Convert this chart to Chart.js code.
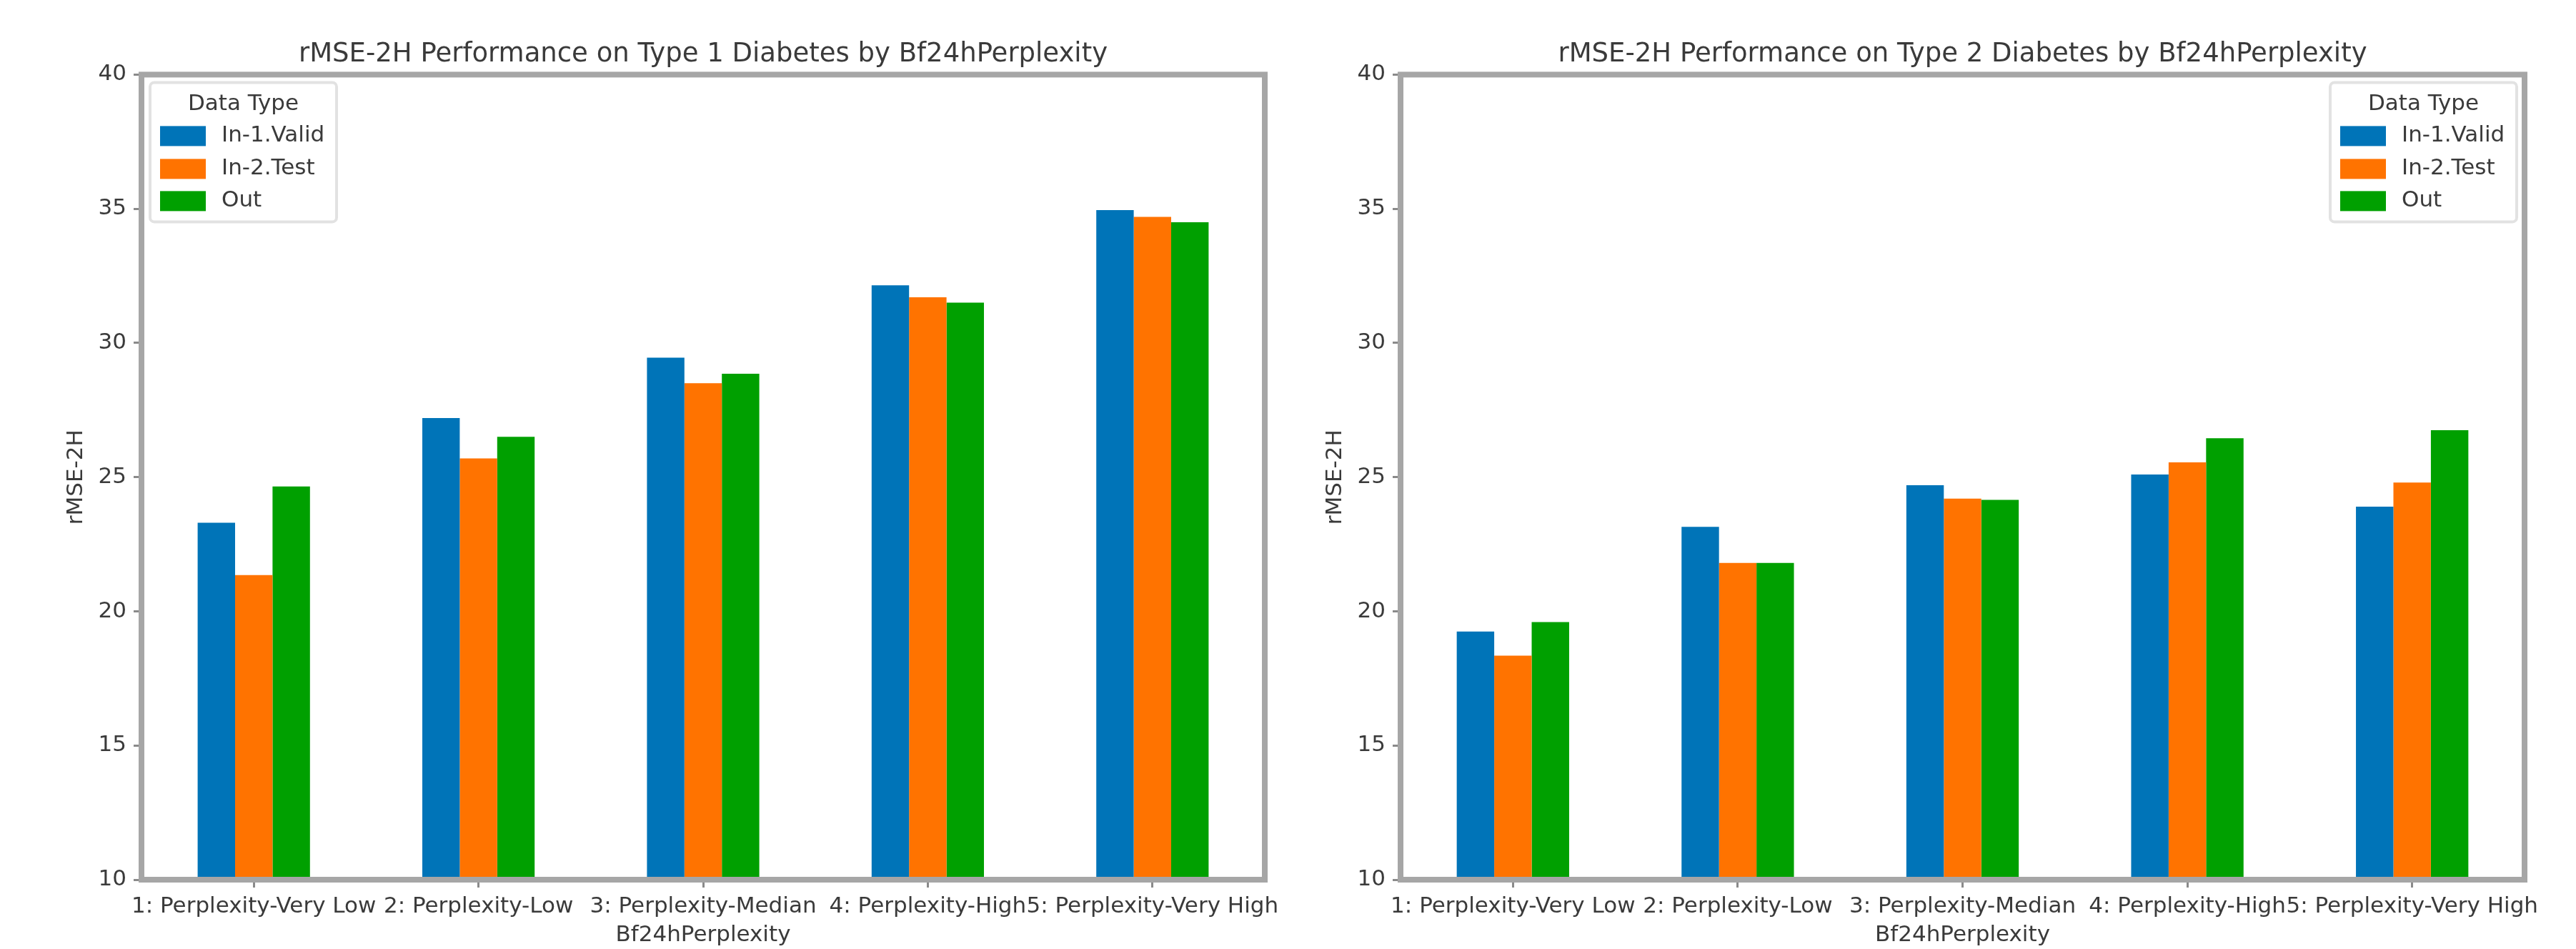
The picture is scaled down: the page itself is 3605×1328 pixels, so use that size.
<!DOCTYPE html>
<html>
<head>
<meta charset="utf-8">
<script src="https://cdn.jsdelivr.net/npm/chart.js@4.4.1/dist/chart.umd.min.js"></script>
<style>
  html, body { margin: 0; padding: 0; background: #fff; }
  #wrap { position: relative; width: 3605px; height: 1328px; overflow: hidden; }
  .panel { position: absolute; top: 0; height: 1328px; }
</style>
</head>
<body>
<div id="wrap">
  <div class="panel" style="left:0;width:1802px"><canvas id="chartT1" width="1802" height="1328"></canvas></div>
  <div class="panel" style="left:1802px;width:1803px"><canvas id="chartT2" width="1803" height="1328"></canvas></div>
</div>
<script>
const categories = [
  '1: Perplexity-Very Low',
  '2: Perplexity-Low',
  '3: Perplexity-Median',
  '4: Perplexity-High',
  '5: Perplexity-Very High'
];
const seriesNames = ['In-1.Valid', 'In-2.Test', 'Out'];
const seriesColors = ['#0074b8', '#ff7300', '#00a000'];

// Type 1 diabetes
const t1Valid = [23.3, 27.2, 29.45, 32.15, 34.95];
const t1Test  = [21.35, 25.7, 28.5, 31.7, 34.7];
const t1Out   = [24.65, 26.5, 28.85, 31.5, 34.5];

// Type 2 diabetes
const t2Valid = [19.25, 23.15, 24.7, 25.1, 23.9];
const t2Test  = [18.35, 21.8, 24.2, 25.55, 24.8];
const t2Out   = [19.6, 21.8, 24.15, 26.45, 26.75];

const yTicks = [10, 15, 20, 25, 30, 35, 40];

const FONT = 'DejaVu Sans';
const TEXT = '#3a3a3a';

// spines drawn over the bars, legend drawn last
const frameAndLegend = {
  id: 'frameAndLegend',
  afterDatasetsDraw(chart) {
    const ctx = chart.ctx;
    const a = chart.chartArea;
    ctx.save();
    ctx.strokeStyle = '#a6a6a6';
    ctx.lineWidth = 8;
    ctx.strokeRect(a.left, a.top, a.right - a.left, a.bottom - a.top);
    ctx.restore();
  },
  afterDraw(chart, args, opts) {
    const ctx = chart.ctx;
    const a = chart.chartArea;
    const boxW = 261, boxH = 195;
    const x = opts.side === 'right' ? a.right - 11 - boxW : a.left + 12;
    const y = a.top + 11;
    ctx.save();
    ctx.beginPath();
    ctx.roundRect(x, y, boxW, boxH, 6);
    ctx.fillStyle = 'rgba(255,255,255,0.85)';
    ctx.fill();
    ctx.strokeStyle = '#e2e2e2';
    ctx.lineWidth = 4;
    ctx.stroke();

    ctx.font = `31px "${FONT}"`;
    ctx.fillStyle = TEXT;
    ctx.textBaseline = 'middle';
    ctx.textAlign = 'center';
    ctx.fillText('Data Type', x + boxW / 2, y + 31);

    ctx.textAlign = 'left';
    const rows = [75, 121, 166];
    chart.data.datasets.forEach((ds, i) => {
      ctx.fillStyle = ds.backgroundColor;
      ctx.fillRect(x + 14, y + rows[i] - 14, 64, 28);
      ctx.fillStyle = TEXT;
      ctx.fillText(ds.label, x + 100, y + rows[i]);
    });
    ctx.restore();
  }
};

function makeChart(canvasId, titleText, series, lay) {
  const ctx = document.getElementById(canvasId).getContext('2d');
  return new Chart(ctx, {
    type: 'bar',
    data: {
      labels: categories,
      datasets: series.map((vals, i) => ({
        label: seriesNames[i],
        data: vals,
        backgroundColor: seriesColors[i],
        borderWidth: 0,
        categoryPercentage: 0.5,
        barPercentage: 1.0
      }))
    },
    options: {
      responsive: false,
      animation: false,
      devicePixelRatio: 1,
      layout: { padding: { left: 0, right: lay.padRight, top: 0, bottom: 0 } },
      plugins: {
        legend: { display: false },
        tooltip: { enabled: false },
        title: {
          display: true,
          text: titleText,
          fullSize: false,
          color: TEXT,
          font: { family: FONT, size: 37, weight: 'normal' },
          padding: { top: 54, bottom: 6 }
        },
        frameAndLegend: { side: lay.legendSide }
      },
      scales: {
        x: {
          offset: true,
          grid: {
            display: true, drawOnChartArea: false, drawTicks: true,
            tickLength: 11, tickWidth: 3, tickColor: '#8a8a8a', offset: false
          },
          border: { display: false },
          ticks: {
            autoSkip: false, maxRotation: 0, minRotation: 0,
            padding: 8, color: TEXT,
            font: { family: FONT, size: 31 }
          },
          title: {
            display: true, text: 'Bf24hPerplexity', color: TEXT,
            font: { family: FONT, size: 31 },
            padding: { top: 0, bottom: 0 }
          },
          afterFit: axis => { axis.height = 97; }
        },
        y: {
          min: 10, max: 40,
          afterBuildTicks: axis => { axis.ticks = yTicks.map(v => ({ value: v })); },
          grid: {
            display: true, drawOnChartArea: false, drawTicks: true,
            tickLength: 11, tickWidth: 3, tickColor: '#8a8a8a'
          },
          border: { display: false },
          ticks: {
            padding: 10, color: TEXT,
            font: { family: FONT, size: 31 }
          },
          title: {
            display: true, text: 'rMSE-2H', color: TEXT,
            font: { family: FONT, size: 31 },
            padding: { top: lay.yTitlePad, bottom: 0 }
          },
          afterFit: axis => { axis.width = lay.yAxisWidth; }
        }
      }
    },
    plugins: [frameAndLegend]
  });
}

makeChart('chartT1', 'rMSE-2H Performance on Type 1 Diabetes by Bf24hPerplexity',
  [t1Valid, t1Test, t1Out],
  { yAxisWidth: 198, padRight: 32, yTitlePad: 88, legendSide: 'left' });

makeChart('chartT2', 'rMSE-2H Performance on Type 2 Diabetes by Bf24hPerplexity',
  [t2Valid, t2Test, t2Out],
  { yAxisWidth: 158, padRight: 72, yTitlePad: 48, legendSide: 'right' });
</script>
</body>
</html>
